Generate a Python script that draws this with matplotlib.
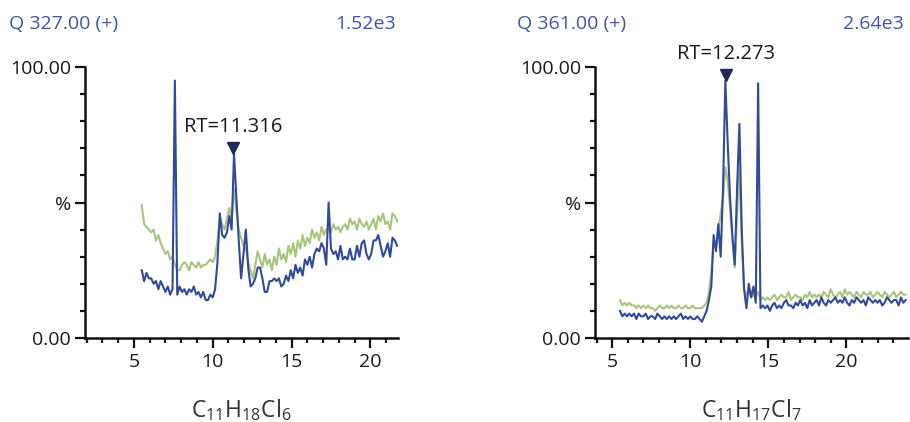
import numpy as np
import matplotlib
matplotlib.use("Agg")
import matplotlib.pyplot as plt
import matplotlib.transforms as mtransforms
from matplotlib.ticker import MultipleLocator

plt.rcParams['font.family'] = ['Open Sans', 'DejaVu Sans']
plt.rcParams['mathtext.fontset'] = 'custom'
plt.rcParams['mathtext.rm'] = 'Open Sans'
plt.rcParams['mathtext.it'] = 'Open Sans'

# ---------------- data ----------------
scan_start = 5.5
scan_step = 0.15

titles = ["Q 327.00 (+)", "Q 361.00 (+)"]
scales = ["1.52e3", "2.64e3"]
compounds = [r"$\mathrm{C_{11}H_{18}Cl_{6}}$", r"$\mathrm{C_{11}H_{17}Cl_{7}}$"]
rts = [11.316, 12.273]
xlims = [(1.9, 21.75), (3.9, 23.95)]
xticks = [5, 10, 15, 20]
ytick_vals = [0, 50, 100]
ytick_labels = ["0.00", "%", "100.00"]

blue_left = [25, 21, 24, 22, 22, 20, 21, 18, 21, 19, 17, 19, 16, 18,
             95,
             16, 19, 17, 18, 16, 18, 17, 19, 16, 17, 15, 17, 14, 14, 16,
             15, 18, 28, 46, 38, 37, 39, 45, 40, 68, 52, 36, 22, 31, 40, 26, 19, 20, 22, 26,
             26, 22, 17, 17, 21, 21, 22, 21, 22, 19, 20, 23, 21, 25, 22, 27, 24, 26, 23, 29,
             27, 30, 26, 31, 33, 32, 35, 33, 27, 50, 33, 31, 32, 29, 34, 29, 30, 29, 33, 29,
             29, 34, 30, 35, 36, 31, 29, 31, 36, 36, 38, 34, 30, 32, 35, 30, 37, 36, 34]
green_left = [49, 42, 41, 40, 39, 40, 36, 38, 35, 33, 31, 32, 29, 30,
              27, 25, 25, 27, 28, 27, 25, 28, 27, 26, 28, 26, 27, 27, 28, 29,
              28, 30, 36, 44, 42, 40, 44, 48, 44, 55, 47, 40, 37, 34, 33, 28, 25, 22, 27, 32,
              29, 26, 31, 27, 29, 25, 30, 27, 33, 29, 31, 28, 34, 31, 35, 30, 36, 33, 38, 34,
              37, 35, 40, 37, 39, 36, 41, 38, 40, 40, 39, 42, 40, 41, 39, 41, 42, 40, 44, 42,
              43, 40, 44, 42, 41, 43, 40, 42, 44, 40, 45, 43, 46, 42, 43, 40, 46, 45, 43]

blue_right = [10, 8, 9, 8, 9, 8, 9, 7, 9, 8, 8, 9, 7, 8, 8, 7, 9, 8, 7, 8, 7, 8, 7, 8, 7,
              8, 9, 7, 8, 7, 8, 7, 7, 8, 7, 6, 8,
              10, 14, 19, 38, 32, 42, 30, 55, 95, 72, 52, 38, 27, 55, 79, 40, 18, 11, 20, 15,
              19, 13, 94, 11,
              12, 11, 12, 10, 12, 13, 11, 12, 11, 13, 14, 12, 12, 11, 13, 12, 14, 12, 13, 11,
              14, 12, 13, 14, 12, 15, 13, 12, 14, 13, 14, 15, 13, 14, 13, 15, 13, 12, 14, 13,
              15, 14, 13, 14, 12, 15, 14, 13, 14, 13, 14, 12, 13, 15, 14, 13, 14, 14, 12, 15,
              13, 14]
green_right = [14, 12, 13, 12, 13, 12, 12, 11, 12, 11, 12, 11, 12, 11, 11, 10, 11, 12, 11, 11,
               12, 11, 12, 11, 11, 12, 11, 11, 12, 11, 11, 12, 11, 11, 11, 11, 12,
               13, 17, 24, 36, 33, 40, 46, 52, 63, 58, 48, 36, 26, 45, 62, 36, 18, 16, 17, 15,
               16, 15, 17, 14,
               15, 14, 15, 14, 15, 16, 14, 15, 16, 15, 15, 17, 14, 15, 16, 15, 15, 14, 16, 15,
               17, 15, 16, 15, 16, 15, 17, 16, 15, 18, 16, 15, 16, 17, 15, 18, 16, 17, 16, 15,
               17, 16, 15, 17, 16, 16, 17, 15, 16, 17, 16, 15, 17, 16, 15, 16, 17, 15, 16, 17,
               16, 16]

blues = [blue_left, blue_right]
greens = [green_left, green_right]

# ---------------- style ----------------
BLUE = "#34499a"
GREEN = "#a9c47f"
TITLE_C = "#4057a0"
NAVY = "#1f2858"
FS = 14

fig = plt.figure(figsize=(9.10, 4.22), dpi=100)
axes_rects = [[85 / 910, 84 / 422, 313 / 910, 271 / 422],
              [595 / 910, 84 / 422, 313 / 910, 271 / 422]]
title_x = [9 / 910, 517 / 910]
scale_x = [396 / 910, 904 / 910]

for k in range(2):
    ax = fig.add_axes(axes_rects[k])
    b = np.array(blues[k], dtype=float)
    g = np.array(greens[k], dtype=float)
    t = scan_start + scan_step * np.arange(len(b))
    ax.plot(t, g, color=GREEN, lw=1.5, zorder=2)
    ax.plot(t, b, color=BLUE, lw=1.5, zorder=3)

    ax.set_xlim(*xlims[k])
    ax.set_ylim(0, 100)
    for s in ["top", "right"]:
        ax.spines[s].set_visible(False)
    for s in ["left", "bottom"]:
        ax.spines[s].set_linewidth(1.8)
        ax.spines[s].set_color("#111111")
    ax.set_xticks(xticks)
    ax.xaxis.set_minor_locator(MultipleLocator(1))
    ax.set_yticks(ytick_vals)
    ax.set_yticklabels(ytick_labels)
    ax.yaxis.set_minor_locator(MultipleLocator(10))
    ax.tick_params(which="major", length=7, width=1.6, labelsize=FS, pad=3,
                   color="#111111", labelcolor="#1a1a1a")
    ax.tick_params(which="minor", length=3.5, width=1.6, color="#111111")
    ax.tick_params(axis="x", which="major", pad=4)

    # retention time marker and label
    i_pk = int(np.argmin(np.abs(t - rts[k])))
    pk = b[i_pk]
    mk_tr = mtransforms.offset_copy(ax.transData, fig=fig, x=0, y=6, units="dots")
    ax.plot([rts[k]], [pk], marker="v", ms=8, color=NAVY, transform=mk_tr,
            clip_on=False, zorder=5)
    ax.annotate(f"RT={rts[k]:.3f}", xy=(rts[k], pk), xytext=(0, 27),
                textcoords="offset pixels", ha="center", va="center",
                fontsize=14.5, color="#1a1a1a", annotation_clip=False)

    ax.text(0.5, -0.265, compounds[k], transform=ax.transAxes, ha="center",
            va="center", fontsize=16.5, color="#333333")

    fig.text(title_x[k], 1 - 24 / 422, titles[k], ha="left", va="center",
             fontsize=FS, color=TITLE_C)
    fig.text(scale_x[k], 1 - 24 / 422, scales[k], ha="right", va="center",
             fontsize=FS, color=TITLE_C)

fig.savefig("out.png", dpi=100)
